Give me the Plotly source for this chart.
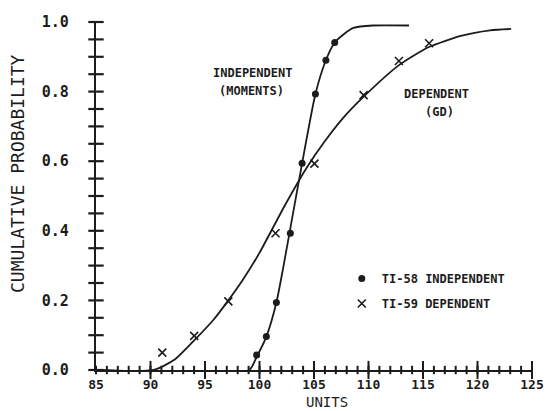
import plotly.graph_objects as go

# ---- data ----
indep_x = [99.74, 100.63, 101.55, 102.83, 103.91, 105.13, 106.09, 106.9]
indep_y = [0.043, 0.096, 0.194, 0.393, 0.594, 0.793, 0.890, 0.941]

dep_x = [91.08, 94.01, 97.14, 101.47, 105.04, 109.55, 112.79, 115.56]
dep_y = [0.050, 0.098, 0.197, 0.393, 0.593, 0.790, 0.888, 0.939]

indep_curve_x = [85.0, 99.05, 99.74, 100.63, 101.55, 102.21, 102.96, 103.91, 105.13,
                 106.09, 106.9, 107.73, 108.62, 110.41, 113.72]
indep_curve_y = [0.0, 0.0, 0.038, 0.096, 0.194, 0.30, 0.43, 0.594, 0.793,
                 0.89, 0.941, 0.965, 0.983, 0.99, 0.99]

dep_curve_x = [85.0, 90.28, 92.22, 94.01, 95.8, 97.14, 98.49, 99.97, 102.36, 104.3,
               105.94, 107.7, 109.58, 112.8, 115.54, 118.47, 121.15, 123.09]
dep_curve_y = [0.0, 0.0, 0.03, 0.085, 0.145, 0.2, 0.26, 0.335, 0.475, 0.58,
               0.655, 0.725, 0.786, 0.876, 0.928, 0.96, 0.976, 0.98]

x_major_ticks = [85, 90, 95, 100, 105, 110, 115, 120, 125]
x_minor_ticks = list(range(85, 126))
y_major_ticks = [0.0, 0.2, 0.4, 0.6, 0.8, 1.0]
y_minor_ticks = [round(i * 0.05, 2) for i in range(21)]

FONT = "DejaVu Sans Mono"
INK = "#1c1c1c"

fig = go.Figure()

fig.add_trace(go.Scatter(x=indep_curve_x, y=indep_curve_y, mode="lines",
                         line=dict(color=INK, width=1.8, shape="spline", smoothing=0.6),
                         showlegend=False, hoverinfo="skip"))
fig.add_trace(go.Scatter(x=dep_curve_x, y=dep_curve_y, mode="lines",
                         line=dict(color=INK, width=1.8, shape="spline", smoothing=0.6),
                         showlegend=False, hoverinfo="skip"))

# crossing tick marks along the axes (plotter style), placed via the axis scales
fig.add_trace(go.Scatter(x=[85] * len(y_minor_ticks), y=y_minor_ticks, mode="markers",
                         marker=dict(symbol="line-ew-open", size=11, color=INK,
                                     line=dict(color=INK, width=2.2)),
                         cliponaxis=False, showlegend=False, hoverinfo="skip"))
fig.add_trace(go.Scatter(x=x_minor_ticks, y=[0] * len(x_minor_ticks), mode="markers",
                         marker=dict(symbol="line-ns-open", size=6, color=INK,
                                     line=dict(color=INK, width=2)),
                         cliponaxis=False, showlegend=False, hoverinfo="skip"))
fig.add_trace(go.Scatter(x=x_major_ticks[1:], y=[0] * (len(x_major_ticks) - 1), mode="markers",
                         marker=dict(symbol="line-ns-open", size=13, color=INK,
                                     line=dict(color=INK, width=2)),
                         cliponaxis=False, showlegend=False, hoverinfo="skip"))

fig.add_trace(go.Scatter(x=indep_x, y=indep_y, mode="markers", name="TI-58 INDEPENDENT",
                         marker=dict(symbol="circle", size=7, color=INK),
                         legend="legend"))
fig.add_trace(go.Scatter(x=dep_x, y=dep_y, mode="markers", name="TI-59 DEPENDENT",
                         marker=dict(symbol="x-thin-open", size=8, color=INK,
                                     line=dict(color=INK, width=1.6)),
                         legend="legend2"))

fig.update_layout(
    width=556, height=411, autosize=False,
    margin=dict(l=96, r=13, t=22, b=41),
    paper_bgcolor="white", plot_bgcolor="white",
    font=dict(family=FONT, color=INK),
    xaxis=dict(range=[85, 125], tickmode="array", tickvals=x_major_ticks, ticks="",
               showline=True, linewidth=2.2, linecolor=INK, showgrid=False, zeroline=False,
               tickfont=dict(family=FONT, size=13, color=INK, weight="bold"),
               ticklabelstandoff=1, layer="below traces"),
    yaxis=dict(range=[0, 1.0], tickmode="array", tickvals=y_major_ticks,
               ticktext=[f"{v:.1f}" for v in y_major_ticks], ticks="",
               showline=True, linewidth=2.2, linecolor=INK, showgrid=False, zeroline=False,
               tickfont=dict(family=FONT, size=15, color=INK, weight="bold"),
               ticklabelstandoff=22, layer="below traces"),
    legend=dict(x=(348 - 96) / 447, y=(370 - 264) / 348, xanchor="left", yanchor="top",
                bgcolor="rgba(0,0,0,0)", itemwidth=30,
                font=dict(family=FONT, size=12, color=INK, weight="bold")),
    legend2=dict(x=(348 - 96) / 447, y=(370 - 289) / 348, xanchor="left", yanchor="top",
                 bgcolor="rgba(0,0,0,0)", itemwidth=30,
                 font=dict(family=FONT, size=12, color=INK, weight="bold")),
)

def ann(text, px, py, size, angle=0, bold=False, yanchor="middle"):
    fig.add_annotation(text=text, xref="paper", yref="paper",
                       x=(px - 96) / 447, y=(370 - py) / 348,
                       xanchor="center", yanchor=yanchor, showarrow=False,
                       textangle=angle, borderpad=0,
                       font=dict(family=FONT, size=size, color=INK,
                                 weight="bold" if bold else "normal"))

ann("INDEPENDENT", 256, 73, 12, bold=True)
ann("(MOMENTS)", 255, 91, 12, bold=True)
ann("DEPENDENT", 445, 94, 12, bold=True)
ann("(GD)", 448, 112, 12, bold=True)
ann("CUMULATIVE PROBABILITY", 15, 173, 18, angle=-90)
ann("UNITS", 333, 411, 14, yanchor="bottom")

fig.write_html("out.html")
